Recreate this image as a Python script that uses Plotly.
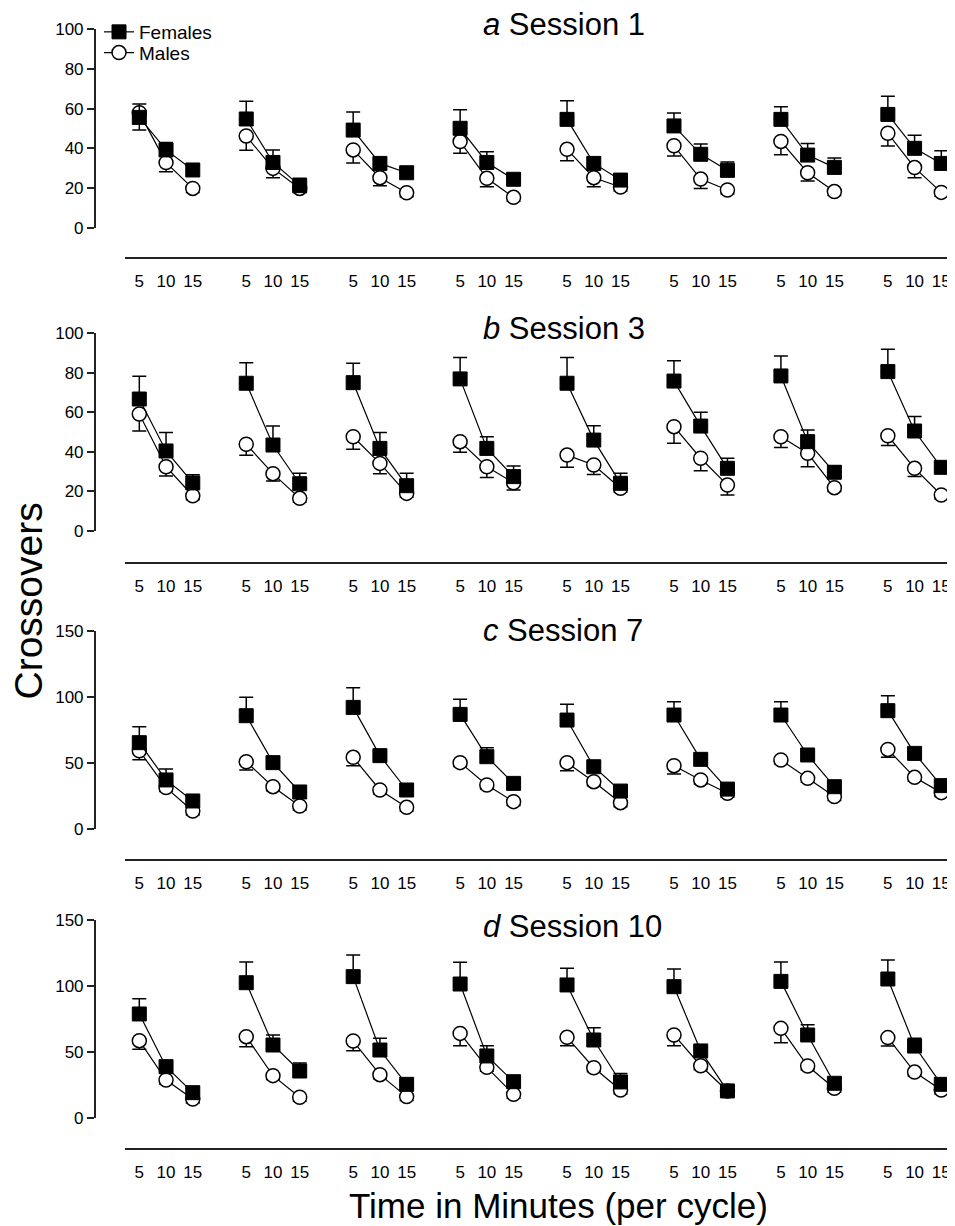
import plotly.graph_objects as go

W, H = 955, 1226
OFF = 8  # page body margin of the rendered html
FONT = "Arial, Liberation Sans, sans-serif"

# ---------------- data ----------------
minutes = [5, 10, 15]
n_cycles = 8
tick_labels = ["5", "10", "15"] * n_cycles
sessions = ["<i>a</i> Session 1", "<i>b</i> Session 3", "<i>c</i> Session 7", "<i>d</i> Session 10"]

fem_a = [55.6, 39.2, 29.1, 54.8, 32.9, 21.2, 49.2, 32.4, 27.7, 50.1, 32.9, 24.4,
         54.6, 32.4, 24.0, 51.3, 37.0, 28.9, 54.6, 36.6, 30.4, 57.1, 40.0, 32.4]
fem_a_sem = [6.8, 3.7, 2.0, 8.9, 6.3, 3.7, 9.1, 3.0, 3.0, 9.4, 5.4, 2.5,
             9.4, 3.0, 2.5, 6.5, 5.2, 4.2, 6.4, 5.9, 4.7, 9.1, 6.6, 6.4]
mal_a = [58.0, 32.8, 19.8, 46.2, 29.9, 19.8, 39.2, 25.2, 17.6, 43.4, 24.9, 15.3,
         39.5, 25.2, 20.5, 41.3, 24.5, 19.0, 43.5, 27.7, 18.2, 47.6, 30.3, 17.8]
mal_a_sem = [8.8, 4.6, 2, 7.2, 4.7, 2, 6.6, 4.0, 2, 5.9, 4.2, 2,
             5.7, 4.5, 2, 5.2, 4.8, 2, 6.7, 4.2, 2, 6.4, 5.1, 2]

fem_b = [66.7, 40.4, 24.2, 74.7, 43.4, 23.8, 75.0, 41.7, 22.8, 76.9, 41.7, 27.4,
         74.7, 45.9, 24.0, 75.8, 53.0, 31.6, 78.4, 45.1, 29.6, 80.6, 50.5, 32.1]
fem_b_sem = [11.5, 9.3, 4.2, 10.4, 9.6, 5.3, 9.8, 8.0, 6.3, 10.9, 5.9, 5.4,
             13.1, 7.3, 5.1, 10.3, 7.0, 5.1, 10.1, 5.9, 3.0, 11.3, 7.3, 2.5]
mal_b = [59.1, 32.4, 17.7, 43.8, 28.9, 16.4, 47.6, 34.1, 18.9, 45.1, 32.4, 24.3,
         38.3, 33.3, 21.5, 52.7, 36.7, 23.1, 47.6, 39.2, 21.8, 48.1, 31.6, 18.1]
mal_b_sem = [8.6, 4.7, 2, 5.6, 3.7, 2, 6.4, 5.2, 2, 5.4, 5.4, 3.7,
             6.2, 4.8, 2, 8.4, 6.3, 5.0, 5.5, 6.8, 2, 5.0, 4.2, 2]

fem_c = [65.3, 37.1, 21.2, 85.7, 50.2, 28.0, 92.0, 55.5, 29.5, 86.7, 54.7, 34.5,
         82.4, 47.1, 28.7, 86.2, 52.7, 30.2, 86.2, 56.0, 32.0, 89.5, 57.2, 32.8]
fem_c_sem = [12.1, 8.3, 3, 13.9, 3, 3, 14.9, 3, 3, 11.4, 6.8, 3,
             11.9, 3, 3, 10.1, 3, 3, 10.1, 3, 3, 11.3, 3, 3]
mal_c = [59.2, 31.3, 13.6, 50.9, 32.0, 17.4, 54.2, 29.5, 16.4, 50.2, 33.3, 20.7,
         50.2, 35.8, 19.9, 47.9, 37.1, 27.0, 52.2, 38.3, 24.5, 60.2, 39.1, 27.5]
mal_c_sem = [6.8, 3, 3, 6.3, 3, 3, 6.3, 3, 3, 3, 3, 3,
             6.1, 3, 3, 6.3, 3, 3, 3, 3, 3, 6.0, 3, 3]

fem_d = [78.8, 38.9, 19.2, 102.5, 55.3, 35.6, 107.1, 51.5, 25.5, 101.5, 47.0, 27.5,
         100.8, 59.1, 27.3, 99.5, 50.8, 20.5, 103.5, 62.9, 26.3, 105.3, 54.5, 25.5]
fem_d_sem = [11.6, 3, 3, 15.7, 7.6, 6.0, 16.4, 8.9, 3, 16.4, 7.8, 3,
             12.6, 9.3, 6.5, 13.4, 3, 3, 14.7, 7.8, 3, 14.4, 5.9, 3]
mal_d = [58.6, 28.8, 14.4, 61.6, 32.1, 15.7, 58.3, 32.8, 16.2, 64.1, 38.4, 17.9,
         61.1, 38.1, 21.2, 62.9, 39.6, 20.5, 67.9, 39.4, 22.5, 60.9, 34.8, 21.2]
mal_d_sem = [6.6, 3, 3, 7.6, 3, 3, 7.3, 3, 3, 9.3, 3, 3,
             6.3, 3, 3, 8.1, 3, 3, 10.8, 3, 3, 6.3, 3, 3]

panels = [
    (fem_a, fem_a_sem, mal_a, mal_a_sem, [0, 20, 40, 60, 80, 100], 100),
    (fem_b, fem_b_sem, mal_b, mal_b_sem, [0, 20, 40, 60, 80, 100], 100),
    (fem_c, fem_c_sem, mal_c, mal_c_sem, [0, 50, 100, 150], 150),
    (fem_d, fem_d_sem, mal_d, mal_d_sem, [0, 50, 100, 150], 150),
]

# ---------------- layout geometry (screen pixels) ----------------
y_top_px = [29.3, 333.3, 630.7, 920.0]
y_bot_px = [227.7, 530.7, 829.0, 1118.0]
xline_px = [258.3, 562.7, 860.0, 1148.7]
title_px = [24.7, 328.0, 630.0, 926.0]
yaxis_x_px = 94.7
xdom_left_px = 125.3
xdom_right_px = 955.0


def py(p):
    return 1 - (p - OFF) / H


def px(p):
    return (p - OFF) / W


# x positions: cycle g, minute m -> 20*g + m
x_all = [20 * g + m for g in range(n_cycles) for m in minutes]
tick_cycles = [5, 6, 7]
x_ticks_visible = [20 * g + m for g in tick_cycles for m in minutes]
x_range = [2.38, 157.56]


def with_gaps(vals):
    out = []
    for g in range(n_cycles):
        out.extend(vals[3 * g:3 * g + 3])
        if g < n_cycles - 1:
            out.append(None)
    return out


def zeros_gaps():
    return with_gaps([0] * (3 * n_cycles))


fig = go.Figure()
xg = with_gaps(x_all)

for i, (f, fs, m, ms, yt, ymax) in enumerate(panels):
    xa = "x" if i == 0 else f"x{i + 1}"
    ya = "y" if i == 0 else f"y{i + 1}"
    fig.add_trace(go.Scatter(
        x=xg, y=with_gaps(m), xaxis=xa, yaxis=ya, mode="lines+markers",
        name="Males", showlegend=(i == 0), legend="legend2", connectgaps=False,
        line=dict(color="black", width=1.2),
        marker=dict(symbol="circle", size=14, color="white",
                    line=dict(color="black", width=1.5)),
        error_y=dict(type="data", symmetric=False, array=zeros_gaps(),
                     arrayminus=with_gaps(ms), color="black",
                     thickness=1.5, width=7),
        hoverinfo="skip",
    ))
    fig.add_trace(go.Scatter(
        x=xg, y=with_gaps(f), xaxis=xa, yaxis=ya, mode="lines+markers",
        name="Females", showlegend=(i == 0), legend="legend", connectgaps=False,
        line=dict(color="black", width=1.2),
        marker=dict(symbol="square", size=14, color="black",
                    line=dict(color="black", width=1)),
        error_y=dict(type="data", symmetric=False, array=with_gaps(fs),
                     arrayminus=zeros_gaps(), color="black",
                     thickness=1.5, width=7),
        hoverinfo="skip",
    ))

    sfx = "" if i == 0 else str(i + 1)
    xpos = py(xline_px[i])
    xdom = [px(xdom_left_px), px(xdom_right_px)]
    fig.layout["xaxis" + sfx] = dict(
        domain=xdom, range=x_range, anchor="free", automargin=False,
        position=xpos, showline=True, linecolor="#222", linewidth=1.5,
        tickmode="array", tickvals=x_all, ticktext=tick_labels,
        ticks="outside", ticklen=8, tickcolor="rgba(0,0,0,0)",
        tickfont=dict(family=FONT, size=17, color="black"),
        showgrid=False, zeroline=False, fixedrange=True,
    )
    ov = str(i + 5)
    fig.layout["xaxis" + ov] = dict(
        overlaying=xa, domain=xdom, range=x_range, automargin=False,
        anchor="free", position=xpos, showline=False,
        tickmode="array", tickvals=x_ticks_visible, ticks="outside",
        ticklen=8, tickwidth=1.5, tickcolor="#222", showticklabels=False,
        showgrid=False, zeroline=False, fixedrange=True,
    )
    fig.layout["yaxis" + sfx] = dict(
        domain=[py(y_bot_px[i]), py(y_top_px[i])], range=[0, ymax],
        anchor="free", position=px(yaxis_x_px), showline=True, automargin=False,
        linecolor="#222", linewidth=1.5, ticks="outside", ticklen=7,
        tickwidth=1.5, tickcolor="#222", tickmode="array", tickvals=yt,
        tickfont=dict(family=FONT, size=17, color="black"),
        showgrid=False, zeroline=False, fixedrange=True,
    )
    fig.add_annotation(
        text=sessions[i], xref="paper", yref="paper", x=px(481),
        y=py(title_px[i]), xanchor="left", yanchor="middle", showarrow=False,
        font=dict(family=FONT, size=31, color="black"),
    )

fig.add_annotation(
    text="Crossovers", xref="paper", yref="paper", x=px(28), y=py(601.5),
    xanchor="center", yanchor="middle", textangle=-90, showarrow=False,
    font=dict(family=FONT, size=39, color="black"),
)
fig.add_annotation(
    text="Time in Minutes (per cycle)", xref="paper", yref="paper",
    x=px(558), y=py(1205), xanchor="center", yanchor="middle",
    showarrow=False, font=dict(family=FONT, size=35, color="black"),
)

leg_common = dict(xanchor="left", yanchor="middle", bgcolor="rgba(0,0,0,0)",
                  font=dict(family=FONT, size=19, color="black"), itemwidth=30)
fig.update_layout(
    template="none",
    width=W, height=H, margin=dict(l=0, r=0, t=0, b=0, autoexpand=False),
    paper_bgcolor="white", plot_bgcolor="white",
    showlegend=True,
    legend=dict(x=px(99), y=py(32), **leg_common),
    legend2=dict(x=px(99), y=py(52.7), **leg_common),
)

fig.write_html("out.html")
